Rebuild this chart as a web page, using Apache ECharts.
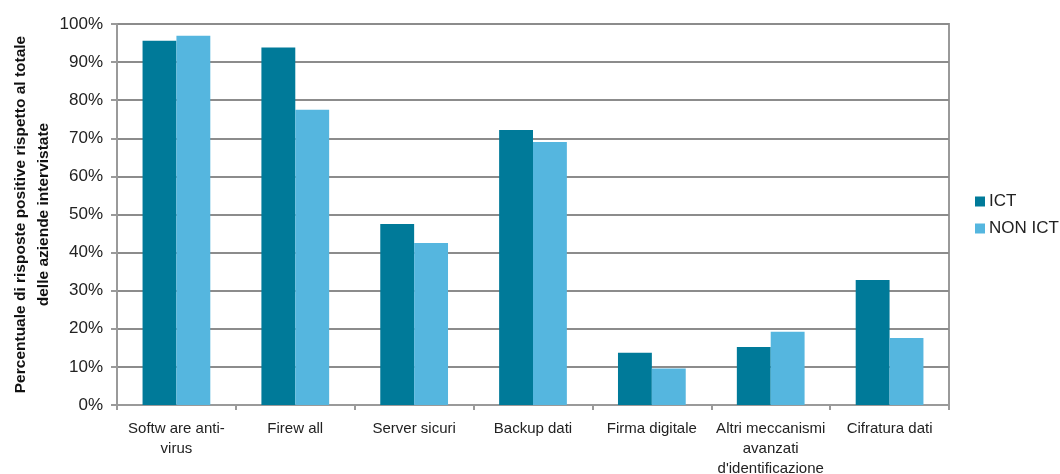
<!DOCTYPE html>
<html>
<head>
<meta charset="utf-8">
<script src="https://cdn.jsdelivr.net/npm/echarts@6/dist/echarts.min.js"></script>
<style>
  html, body { margin: 0; padding: 0; background: #fff; }
  #chart { width: 1060px; height: 474px; }
</style>
</head>
<body>
<div id="chart"></div>
<script>
// Security measures adopted, share of positive answers (%)
const categories = [
  'Softw are anti-\nvirus',
  'Firew all',
  'Server sicuri',
  'Backup dati',
  'Firma digitale',
  'Altri meccanismi\navanzati\nd\'identificazione',
  'Cifratura dati'
];
const ictValues = [95.6, 93.8, 47.5, 72.2, 13.7, 15.2, 32.8];
const nonIctValues = [96.9, 77.5, 42.5, 69.0, 9.6, 19.2, 17.6];
const seriesNames = ['ICT', 'NON ICT'];
const yAxisTitle = 'Percentuale di risposte positive rispetto al totale\ndelle aziende intervistate';

const font = '"Liberation Sans", Arial, sans-serif';
const chart = echarts.init(document.getElementById('chart'), null, { renderer: 'canvas' });

chart.setOption({
  animation: false,
  textStyle: { fontFamily: font },
  grid: {
    left: 117, right: 111, top: 24, bottom: 69,
    outerBoundsMode: 'none',
    containLabel: false,
    show: true, borderColor: '#9a9a9a', borderWidth: 2
  },
  legend: {
    orient: 'vertical',
    left: 970, top: 188,
    itemWidth: 10, itemHeight: 10, itemGap: 10,
    icon: 'rect',
    textStyle: { fontFamily: font, fontSize: 17, color: '#222', padding: [0, 0, 0, -1] },
    data: seriesNames
  },
  xAxis: {
    type: 'category',
    data: categories,
    axisLine: { lineStyle: { color: '#9a9a9a', width: 2 } },
    axisTick: { show: true, length: 5, lineStyle: { color: '#9a9a9a', width: 2 } },
    axisLabel: {
      interval: 0, margin: 14, fontFamily: font, fontSize: 15,
      color: '#222', lineHeight: 20
    }
  },
  yAxis: {
    type: 'value',
    min: 0, max: 100, interval: 10,
    name: yAxisTitle,
    nameLocation: 'middle',
    nameRotate: 90,
    nameGap: 62,
    nameMoveOverlap: false,
    nameTextStyle: {
      fontFamily: font, fontSize: 15.5, fontWeight: 'bold',
      color: '#111', lineHeight: 23, align: 'center'
    },
    axisLine: { show: true, lineStyle: { color: '#9a9a9a', width: 2 } },
    axisTick: { show: true, length: 6, lineStyle: { color: '#9a9a9a', width: 2 } },
    axisLabel: {
      fontFamily: font, fontSize: 17, color: '#222', margin: 14,
      formatter: v => v + '%'
    },
    splitLine: { lineStyle: { color: '#8c8c8c', width: 2 } }
  },
  series: [
    {
      name: seriesNames[0], type: 'bar', data: ictValues,
      barGap: '0%', barCategoryGap: '43%',
      itemStyle: { color: '#007a99' }
    },
    {
      name: seriesNames[1], type: 'bar', data: nonIctValues,
      barGap: '0%', barCategoryGap: '43%',
      itemStyle: { color: '#55b6df' }
    }
  ]
});
</script>
</body>
</html>
